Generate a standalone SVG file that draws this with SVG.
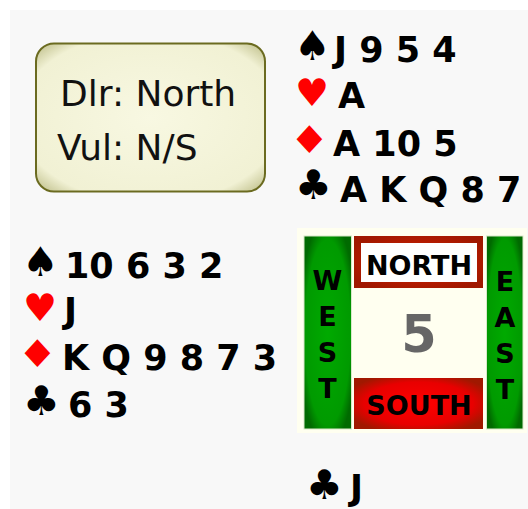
<svg xmlns="http://www.w3.org/2000/svg" width="528" height="509" viewBox="0 0 528 509">
<defs>
<radialGradient id="gInfo" cx="50%" cy="50%" r="72%">
<stop offset="0%" stop-color="#f8f8e2"/>
<stop offset="80%" stop-color="#f1f1d4"/>
<stop offset="100%" stop-color="#b4b47a"/>
</radialGradient>
<radialGradient id="gGreen" cx="50%" cy="50%" r="60%">
<stop offset="0%" stop-color="#00aa00"/>
<stop offset="80%" stop-color="#009a00"/>
<stop offset="100%" stop-color="#006a00"/>
</radialGradient>
<radialGradient id="gRed" cx="50%" cy="50%" r="60%">
<stop offset="0%" stop-color="#ff0000"/>
<stop offset="70%" stop-color="#e80000"/>
<stop offset="100%" stop-color="#a01800"/>
</radialGradient>
<radialGradient id="gRedFrame" cx="50%" cy="50%" r="60%">
<stop offset="0%" stop-color="#d82000"/>
<stop offset="100%" stop-color="#a01800"/>
</radialGradient>
</defs>
<style>
.cards{font-family:"DejaVu Sans",Verdana,sans-serif;font-weight:bold;font-size:35px;fill:#000}
.suit{font-family:"DejaVu Sans",sans-serif}
.sp{font-size:41px;fill:#000}
.ht{font-size:38px;fill:#ff0000}
.dm{font-size:38px;fill:#ff0000}
.cl{font-size:41px;fill:#000}
.info{font-family:"DejaVu Sans",Verdana,sans-serif;font-size:36px;fill:#111}
.dir{font-family:"DejaVu Sans",Verdana,sans-serif;font-weight:bold;font-size:27px;fill:#000;text-anchor:middle}
.lbl{font-family:"DejaVu Sans",Verdana,sans-serif;font-weight:bold;font-size:27px;fill:#000;text-anchor:middle}
</style>
<rect x="0" y="0" width="528" height="509" fill="#ffffff"/>
<rect x="10" y="10" width="518" height="499" fill="#f8f8f8"/>

<g id="info">
<rect x="36" y="43.5" width="229" height="148" rx="18" ry="18" fill="url(#gInfo)" stroke="#6b6b20" stroke-width="2"/>
<text class="info" x="60" y="106">Dlr: North</text>
<text class="info" x="57" y="160">Vul: N/S</text>
</g>

<g id="north">
<text class="suit sp" x="294" y="60">♠</text>
<text class="cards" x="334" y="62">J 9 5 4</text>
<text class="suit ht" x="295" y="106">♥</text>
<text class="cards" x="338" y="108">A</text>
<text class="suit dm" transform="translate(289,153) scale(1.2,1)" x="0" y="0">♦</text>
<text class="cards" x="333" y="156">A 10 5</text>
<text class="suit cl" x="295" y="199">♣</text>
<text class="cards" x="340" y="202">A K Q 8 7</text>
</g>

<g id="west">
<text class="suit sp" x="22" y="276">♠</text>
<text class="cards" x="65" y="278">10 6 3 2</text>
<text class="suit ht" x="23" y="321">♥</text>
<text class="cards" x="64" y="323">J</text>
<text class="suit dm" transform="translate(17,367) scale(1.2,1)" x="0" y="0">♦</text>
<text class="cards" x="62" y="370">K Q 9 8 7 3</text>
<text class="suit cl" x="23" y="415">♣</text>
<text class="cards" x="68" y="417">6 3</text>
</g>

<g id="south">
<text class="suit cl" x="306" y="499">♣</text>
<text class="cards" x="350" y="500">J</text>
</g>

<g id="compass">
<rect x="297" y="228" width="230" height="205" fill="#fffff0"/>
<rect x="304" y="236" width="47.5" height="193" fill="url(#gGreen)" stroke="#d8e8c8" stroke-width="1"/>
<rect x="486.5" y="236" width="36.5" height="193" fill="url(#gGreen)" stroke="#d8e8c8" stroke-width="1"/>
<rect x="354" y="236" width="129" height="52" fill="url(#gRedFrame)"/>
<rect x="361" y="243" width="116" height="39" fill="#ffffff"/>
<rect x="354" y="378" width="129" height="51" fill="url(#gRed)"/>
<text class="lbl" x="419" y="275">NORTH</text>
<text class="lbl" x="419" y="415">SOUTH</text>
<text x="419" y="352" font-family="DejaVu Sans,Verdana,sans-serif" font-weight="bold" font-size="51" fill="#666666" text-anchor="middle">5</text>
<text class="dir" x="327.5" y="290">W</text>
<text class="dir" x="327.5" y="326">E</text>
<text class="dir" x="327.5" y="362">S</text>
<text class="dir" x="327.5" y="398">T</text>
<text class="dir" x="505" y="291">E</text>
<text class="dir" x="505" y="327">A</text>
<text class="dir" x="505" y="363">S</text>
<text class="dir" x="505" y="399">T</text>
</g>
</svg>
